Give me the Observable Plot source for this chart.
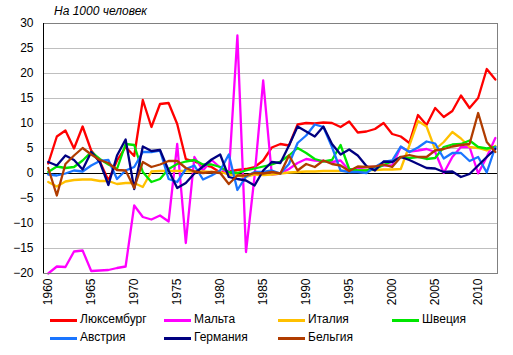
<!DOCTYPE html>
<html>
<head>
<meta charset="utf-8">
<script src="https://cdn.jsdelivr.net/npm/d3@7"></script>
<script src="https://cdn.jsdelivr.net/npm/@observablehq/plot@0.6"></script>
<style>
  body { margin: 0; background: #fff; font-family: "Liberation Sans", Arial, sans-serif; }
  #wrap { position: relative; width: 513px; height: 355px; }
  #title { position: absolute; left: 54px; top: 4px; font-size: 12px; font-style: italic; color: #000; }
  .leg { position: absolute; font-size: 12px; color: #000; white-space: nowrap; }
  .leg span.sw { position: absolute; left: 0; top: 7px; width: 27px; height: 3px; }
  .leg span.tx { position: absolute; left: 30px; top: 0; }
</style>
</head>
<body>
<div id="wrap"><div id="chart"></div><div id="title">На 1000 человек</div></div>
<script>
const years = d3.range(1960, 2013);
const countries = ["Люксембург", "Мальта", "Италия", "Швеция", "Австрия", "Германия", "Бельгия"];
const colors = ["#ff0000", "#ff00ff", "#ffc000", "#00e600", "#1a75ff", "#000080", "#b03c00"];

const luxembourg = [2.0,7.4,8.6,5.0,9.4,4.6,2.4,-1.4,2.6,5.3,3.5,14.7,9.3,13.9,14.1,9.9,2.9,2.4,1.7,1.3,0.2,0.4,0.7,0.9,1.3,2.6,5.2,5.9,5.6,9.8,10.1,10.0,10.2,10.1,9.3,10.4,8.2,8.4,8.9,10.1,7.9,7.4,6.1,11.7,9.7,13.1,11.3,12.5,15.6,13.1,15.1,20.9,18.8];
const malta = [-20.0,-18.6,-18.7,-15.6,-15.4,-19.5,-19.4,-19.3,-18.9,-18.6,-6.4,-8.7,-9.2,-8.4,-9.6,5.9,-13.9,3.3,0.6,2.7,1.2,-0.3,27.6,-15.7,-0.5,18.6,-0.2,0.0,0.9,2.1,2.9,2.6,2.5,2.3,2.6,0.6,1.0,1.3,1.3,1.6,1.6,5.3,4.4,4.6,4.9,4.3,0.1,3.3,5.3,5.3,0.0,3.3,7.1];
const italy = [-1.7,-2.6,-1.6,-1.3,-1.2,-1.2,-1.5,-1.5,-2.1,-1.9,-1.9,-2.7,0.4,0.5,0.5,0.5,0.5,0.4,0.4,0.3,0.3,-0.2,-0.4,-0.7,-0.2,-0.3,-0.2,0.0,0.2,0.3,0.4,0.4,0.5,0.5,0.5,0.5,0.6,0.7,0.7,0.8,0.8,0.9,5.6,10.5,9.4,4.8,6.3,8.3,7.0,5.3,5.1,4.6,5.5];
const sweden = [0.3,1.4,1.1,1.3,2.6,4.3,2.9,1.8,0.9,5.9,5.7,0.3,-1.7,-1.1,0.9,1.9,2.4,2.7,1.8,1.8,1.3,0.3,0.1,0.6,1.0,1.4,1.8,2.4,3.6,5.1,4.1,2.9,2.4,2.7,5.7,0.9,0.6,0.6,0.9,1.7,2.4,3.3,3.1,3.3,2.9,3.1,5.3,5.8,5.9,6.6,5.3,5.0,5.3];
const austria = [-0.2,-0.4,0.0,0.6,0.4,1.6,2.5,2.7,-1.1,0.6,1.3,4.3,4.3,4.6,-1.1,-1.7,0.9,1.6,-1.2,-0.4,0.6,3.8,-3.3,-0.6,0.3,0.3,0.6,0.0,1.9,6.1,7.6,9.8,9.3,5.3,0.6,0.3,0.3,0.1,1.3,2.3,2.6,5.4,4.3,5.2,6.4,6.0,3.0,4.1,4.1,2.5,3.3,0.2,5.3];
const germany = [2.3,1.6,3.6,2.7,0.8,4.3,2.3,-2.3,3.6,6.8,-3.1,5.4,4.5,4.7,0.6,-2.9,-1.9,0.0,1.4,2.8,3.8,-0.7,-1.1,-1.4,-2.4,0.6,2.3,2.1,5.6,9.4,8.4,7.4,9.4,5.9,3.8,4.8,3.6,1.5,0.6,2.4,2.3,3.3,2.7,1.9,1.1,1.0,0.3,0.4,-0.7,-0.1,1.6,3.3,4.9];
const belgium = [1.1,-4.4,1.9,3.6,5.1,3.8,2.7,2.1,0.7,0.6,-2.9,2.3,1.3,1.8,2.5,2.5,1.1,0.4,0.1,0.3,0.1,-2.1,-0.4,-0.4,0.1,0.0,0.3,0.0,3.6,0.6,1.9,1.3,2.6,1.9,1.6,0.5,1.4,1.3,1.4,1.8,1.3,3.3,3.7,3.3,3.3,4.6,4.9,5.4,5.7,5.9,12.1,6.3,4.3];

const yTicks = d3.range(-20, 31, 5);
const xTicks = d3.range(1960, 2011, 5);

const seriesValues = [luxembourg, malta, italy, sweden, austria, germany, belgium];
const table = [];
countries.forEach((c, i) => {
  seriesValues[i].forEach((v, j) => table.push({country: c, year: years[j], value: v}));
});

const xDomain = [1959.45, 2012.25];

const chart = Plot.plot({
  width: 513,
  height: 310,
  marginLeft: 43,
  marginRight: 16,
  marginTop: 23,
  marginBottom: 37,
  style: {fontFamily: "'Liberation Sans', Arial, sans-serif", fontSize: "12px", color: "#000", background: "#fff", overflow: "visible"},
  x: {domain: xDomain},
  y: {domain: [-20, 30]},
  color: {domain: countries, range: colors},
  marks: [
    Plot.gridY(yTicks.filter(d => d !== 0 && d !== -20 && d !== 30), {stroke: "#bfbfbf", strokeOpacity: 1, strokeWidth: 1}),
    Plot.ruleY([0], {stroke: "#000", strokeWidth: 1}),
    Plot.line(table, {x: "year", y: "value", z: "country", stroke: "country", strokeWidth: 2.3, strokeLinejoin: "round"}),
    Plot.frame({stroke: "#808080", strokeWidth: 1}),
    Plot.ruleX([xDomain[0]], {stroke: "#000", strokeWidth: 1}),
    Plot.axisY(yTicks, {tickSize: 0, tickPadding: 10, label: null, fontSize: 12}),
    Plot.axisX(xTicks, {tickSize: 0, tickPadding: 5, tickRotate: -90, tickFormat: d => String(d), label: null, fontSize: 12})
  ]
});
document.getElementById("chart").appendChild(chart);

// legend
const wrap = document.getElementById("wrap");
const legX = [50, 164, 278, 392];
const legY = [312, 330];
countries.forEach((c, i) => {
  const row = Math.floor(i / 4), col = i % 4;
  const d = document.createElement("div");
  d.className = "leg";
  d.style.left = legX[col] + "px";
  d.style.top = legY[row] + "px";
  d.innerHTML = `<span class="sw" style="background:${colors[i]}"></span><span class="tx">${c}</span>`;
  wrap.appendChild(d);
});
</script>
</body>
</html>
